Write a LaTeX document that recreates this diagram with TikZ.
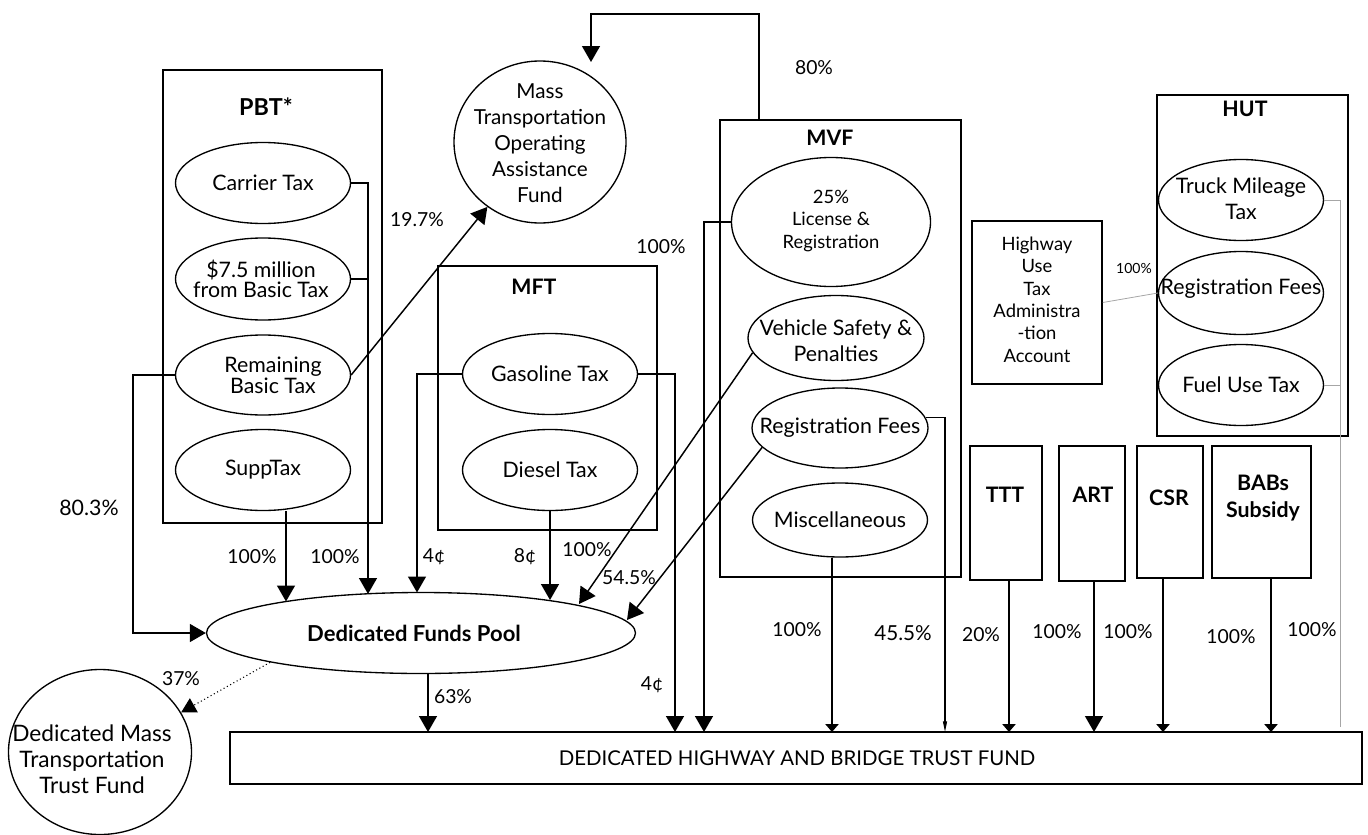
\documentclass[tikz,border=0pt]{standalone}
\usepackage{fontspec}
\setmainfont{Lato}
\usetikzlibrary{shapes.geometric,arrows.meta}
\newcommand{\fM}{\fontsize{16}{19.5}\selectfont}
\newcommand{\fT}{\fontsize{16}{15.5}\selectfont}
\newcommand{\fS}{\fontsize{13.8}{16.8}\selectfont}
\newcommand{\fL}{\fontsize{14.5}{16}\selectfont}
\newcommand{\fB}{\fontsize{16}{19}\selectfont\bfseries}
\begin{document}
\begin{tikzpicture}[x=0.75pt,y=-0.75pt,line width=1.1pt,
  ell/.style={ellipse,draw,line width=1pt,inner sep=0pt,minimum width=131.25pt,minimum height=60.75pt},
  boxn/.style={rectangle,draw,line width=1.2pt,inner sep=0pt},
  txt/.style={inner sep=0pt,align=center,font=\fM},
  lab/.style={inner sep=0pt,font=\fL},
  ttl/.style={inner sep=0pt,align=center,font=\fB},
  arr/.style={-{Triangle[width=13.5pt,length=12pt]}},
  sarr/.style={-{Triangle[width=10pt,length=6pt]}},
  tarr/.style={-{Triangle[width=3pt,length=8pt]}},
  gline/.style={draw=gray!70,line width=0.6pt}]
\useasboundingbox (0,0) rectangle (1368,835);

% ---------- PBT ----------
\node[boxn,minimum width=164.25pt,minimum height=339.75pt] (pbt) at (272.5,296.5) {};
\node[ttl,font=\fontsize{17.5}{19}\selectfont\bfseries] (pbtT) at (266,107) {PBT*};
\node[ell] (carrier) at (263,183) {};
\node[txt] (carrierT) at (carrier) {Carrier Tax};
\node[ell,minimum height=61.5pt] (million) at (263,279) {};
\node[txt,font=\fT] (millionT) at (261,279) {\$7.5 million\\from Basic Tax};
\node[ell,minimum height=60pt] (remain) at (263,375) {};
\node[txt,font=\fT] (remainT) at (273,375) {Remaining\\Basic Tax};
\node[ell] (supp) at (263,470) {};
\node[txt] (suppT) at (supp) {SuppTax};

% ---------- Mass transportation ----------
\node[ellipse,draw,line width=1pt,inner sep=0pt,minimum width=129pt,minimum height=121.5pt] (mtoaf) at (540,142) {};
\node[txt,font=\fontsize{15.5}{19.5}\selectfont] (mtoafT) at (540,143) {Mass\\Transportation\\Operating\\Assistance\\Fund};

% ---------- MFT ----------
\node[boxn,minimum width=164.25pt,minimum height=198pt] (mft) at (547.5,398) {};
\node[ttl] (mftT) at (534,287) {MFT};
\node[ell] (gas) at (550,374) {};
\node[txt] (gasT) at (gas) {Gasoline Tax};
\node[ell] (diesel) at (550,470) {};
\node[txt] (dieselT) at (diesel) {Diesel Tax};

% ---------- MVF ----------
\node[boxn,minimum width=180.75pt,minimum height=342.75pt] (mvf) at (840.5,348.5) {};
\node[ttl] (mvfT) at (830,138) {MVF};
\node[ell,minimum width=149.25pt,minimum height=96.75pt] (lic) at (831,222) {};
\node[txt,font=\fS] (licT) at (831,221) {25\%\\License \&\\Registration};
\node[ell,minimum width=132pt,minimum height=63.75pt] (veh) at (836,338) {};
\node[txt] (vehT) at (836,341) {Vehicle Safety \&\\Penalties};
\node[ell,minimum width=132pt,minimum height=60pt] (mvfreg) at (840,428) {};
\node[txt] (mvfregT) at (mvfreg) {Registration Fees};
\node[ell,minimum width=131.25pt,minimum height=55.5pt] (misc) at (840,520) {};
\node[txt] (miscT) at (misc) {Miscellaneous};

% ---------- HUT ----------
\node[boxn,minimum width=97.5pt,minimum height=122.25pt] (huta) at (1037,302.5) {};
\node[txt,font=\fS] (hutaT) at (1037,299.5) {Highway\\Use\\Tax\\Administra\\-tion\\Account};
\node[boxn,minimum width=143.25pt,minimum height=255.75pt] (hut) at (1252.5,265.5) {};
\node[ttl] (hutT) at (1245,109) {HUT};
\node[ell,minimum width=123.75pt,minimum height=60.75pt] (truck) at (1241,200) {};
\node[txt] (truckT) at (1241,199) {Truck Mileage\\Tax};
\node[ell,minimum width=123.75pt,minimum height=62.25pt] (hutreg) at (1241,293) {};
\node[txt] (hutregT) at (1241,289) {Registration Fees};
\node[ell,minimum width=123.75pt,minimum height=60.75pt] (fuel) at (1241,385) {};
\node[txt] (fuelT) at (fuel) {Fuel Use Tax};

% ---------- small boxes ----------
\node[boxn,minimum width=54pt,minimum height=100.5pt] (ttt) at (1006,513) {};
\node[ttl] (tttT) at (1005,495) {TTT};
\node[boxn,minimum width=49.5pt,minimum height=101.25pt] (art) at (1092,513.5) {};
\node[ttl] (artT) at (1093,495) {ART};
\node[boxn,minimum width=49.5pt,minimum height=99pt] (csr) at (1170,512) {};
\node[ttl] (csrT) at (1169,498) {CSR};
\node[boxn,minimum width=74.25pt,minimum height=99pt] (babs) at (1261.5,512) {};
\node[ttl,font=\fontsize{16}{20}\selectfont\bfseries] (babsT) at (1263,498) {BABs\\Subsidy};

% ---------- pools ----------
\node[ell,minimum width=321.75pt,minimum height=60.75pt] (pool) at (421,633) {};
\node[txt,font=\fontsize{16.5}{19}\selectfont\bfseries] (poolT) at (414,633) {Dedicated Funds Pool};
\node[ellipse,draw,line width=1pt,inner sep=0pt,minimum width=137.25pt,minimum height=123.75pt] (dmttf) at (100,752) {};
\node[txt,font=\fontsize{17}{19.5}\selectfont] (dmttfT) at (92,759) {Dedicated Mass\\Transportation\\Trust Fund};
\node[boxn,minimum width=849pt,minimum height=39pt] (dhbtf) at (796,758) {};
\node[txt,font=\fontsize{15.3}{17}\selectfont] (dhbtfT) at (797,758) {DEDICATED HIGHWAY AND BRIDGE TRUST FUND};

% ---------- coordinates ----------
\coordinate (mtA) at (759,14);
\coordinate (mtB) at (591,62);
\coordinate (pA) at (368,594);
\coordinate (pB) at (133,633);
\coordinate (pC) at (286,601.5);
\coordinate (pD) at (417,592.5);
\coordinate (pE) at (675,732);
\coordinate (pF) at (550,600);
\coordinate (pG) at (579,604);
\coordinate (pH) at (627,620);
\coordinate (pI) at (704,732);
\coordinate (pJ) at (945,732);
\coordinate (pK) at (832,732);
\coordinate (pL) at (1009,732);
\coordinate (pM) at (428,732);
\coordinate (pN) at (1340,727);
\coordinate (pO) at (1094,732);
\coordinate (pP) at (1163,732);
\coordinate (pQ) at (1271,732);

% ---------- connectors ----------
\draw[arr] (mvf.north -| mtA) -- (mtA) -| (mtB);
\draw[arr] (carrier.east) -| (pA);
\draw (million.east) -- (million.east -| pA);
\draw[arr] (remain.east) -- (mtoaf);
\draw[arr] (remain.west) -| (pB) -- (pool.west);
\draw[arr] (supp.south -| pC) -- (pC);
\draw[arr] (gas.west) -| (pD);
\draw[arr] (gas.east) -| (pE);
\draw[arr] (diesel.south) -- (pF);
\draw[arr] (veh.190) -- (pG);
\draw[arr] (mvfreg.194) -- (pH);
\draw[arr] (lic.west) -| (pI);
\draw[tarr,line width=0.8pt] (mvfreg.7) -| (pJ);
\draw[sarr] (pK |- misc.south) -- (pK);
\draw[sarr] (ttt.south -| pL) -- (pL);
\draw[arr] (art.south -| pO) -- (pO);
\draw[sarr] (csr.south -| pP) -- (pP);
\draw[sarr] (babs.south -| pQ) -- (pQ);
\draw[arr] (pool.south -| pM) -- (pM);
\draw[-{Triangle[width=12pt,length=11pt]},dotted,line width=0.8pt] (pool.191) -- (dmttf.26);
\draw[gline] (truck.east) -| (pN);
\draw[gline] (fuel.east) -- (fuel.east -| pN);
\draw[gline] (huta.east) -- (hutreg.west);

% ---------- labels ----------
\node[lab] (l197) at (417,220) {19.7\%};
\node[lab] (l80) at (814,68) {80\%};
\node[lab] (l100a) at (661,247) {100\%};
\node[lab,font=\fontsize{10.5}{12}\selectfont] (l100h) at (1134,268) {100\%};
\node[lab,font=\fontsize{16}{18}\selectfont] (l803) at (89,508) {80.3\%};
\node[lab] (l100b) at (252,557) {100\%};
\node[lab] (l100c) at (335,557) {100\%};
\node[lab] (l4a) at (434,557) {4¢};
\node[lab] (l8) at (525,557) {8¢};
\node[lab] (l100d) at (587,550) {100\%};
\node[lab] (l545) at (629,578) {54.5\%};
\node[lab] (l37) at (181,679) {37\%};
\node[lab] (l63) at (453,697) {63\%};
\node[lab] (l4b) at (652,685) {4¢};
\node[lab] (l100e) at (797,630) {100\%};
\node[lab,font=\fontsize{15.5}{18}\selectfont] (l455) at (903,633) {45.5\%};
\node[lab] (l20) at (981,635) {20\%};
\node[lab] (l100f) at (1057,632) {100\%};
\node[lab] (l100g) at (1128,632) {100\%};
\node[lab] (l100i) at (1231,637) {100\%};
\node[lab] (l100j) at (1312,630) {100\%};
\end{tikzpicture}
\end{document}
